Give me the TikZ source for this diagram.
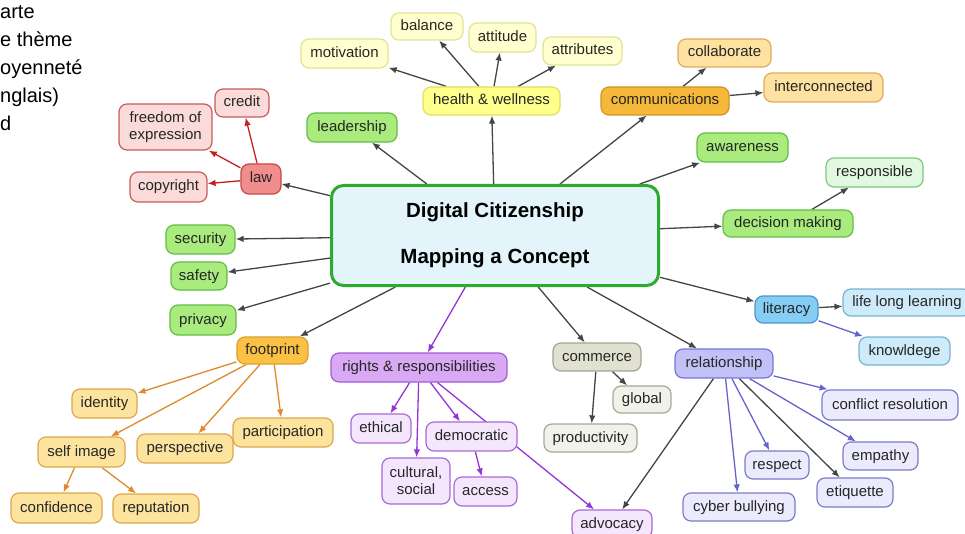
\documentclass[tikz,border=0pt]{standalone}
\usepackage{fontspec}
\setmainfont{Liberation Sans}
\usetikzlibrary{arrows.meta}
\pgfdeclarelayer{paper}
\pgfdeclarelayer{background}
\pgfsetlayers{paper,background,main}
\definecolor{txt}{HTML}{262626}
\definecolor{hwF}{HTML}{FFFF8C}\definecolor{hwD}{HTML}{E0E060}
\definecolor{hwcF}{HTML}{FFFFCF}\definecolor{hwcD}{HTML}{E2E294}
\definecolor{gF}{HTML}{A9EB7D}\definecolor{gD}{HTML}{62BE45}
\definecolor{gcF}{HTML}{E3F8E0}\definecolor{gcD}{HTML}{7CC87C}
\definecolor{oF}{HTML}{F6B838}\definecolor{oD}{HTML}{D39328}
\definecolor{ocF}{HTML}{FDE2A2}\definecolor{ocD}{HTML}{E2AA5C}
\definecolor{lF}{HTML}{F28D8D}\definecolor{lD}{HTML}{C44848}
\definecolor{lcF}{HTML}{FBDADA}\definecolor{lcD}{HTML}{C65C5C}
\definecolor{fF}{HTML}{FAC145}\definecolor{fD}{HTML}{DC9E30}
\definecolor{fcF}{HTML}{FDE49E}\definecolor{fcD}{HTML}{DFA64A}
\definecolor{rF}{HTML}{D9A9F4}\definecolor{rD}{HTML}{A35AD6}
\definecolor{rcF}{HTML}{F4E7FD}\definecolor{rcD}{HTML}{A86AD8}
\definecolor{cmF}{HTML}{E1E1D1}\definecolor{cmD}{HTML}{A4A492}
\definecolor{cmcF}{HTML}{F2F2EA}\definecolor{cmcD}{HTML}{A8A898}
\definecolor{liF}{HTML}{86CDF3}\definecolor{liD}{HTML}{4D97C8}
\definecolor{licF}{HTML}{CEEBFA}\definecolor{licD}{HTML}{7AB2D2}
\definecolor{reF}{HTML}{C1C1F7}\definecolor{reD}{HTML}{7676D3}
\definecolor{recF}{HTML}{EBEBFD}\definecolor{recD}{HTML}{7C7CC9}
\definecolor{cF}{HTML}{E3F4FB}\definecolor{cD}{HTML}{2EAA2E}
\definecolor{agray}{HTML}{454545}
\definecolor{ared}{HTML}{C41E1E}
\definecolor{aorange}{HTML}{E0892C}
\definecolor{apurple}{HTML}{9535D6}
\definecolor{ablue}{HTML}{6464CC}
\tikzset{
  bx/.style={draw, rounded corners=8pt, line width=1.2pt, inner sep=2pt, text=txt,
    font=\fontsize{15}{17}\selectfont, align=center},
  one/.style={text height=11pt, text depth=3pt},
  hw/.style={bx, fill=hwF, draw=hwD}, hwc/.style={bx, fill=hwcF, draw=hwcD},
  grn/.style={bx, fill=gF, draw=gD}, grnc/.style={bx, fill=gcF, draw=gcD},
  org/.style={bx, fill=oF, draw=oD}, orgc/.style={bx, fill=ocF, draw=ocD},
  lawb/.style={bx, fill=lF, draw=lD}, lawc/.style={bx, fill=lcF, draw=lcD},
  fp/.style={bx, fill=fF, draw=fD}, fpc/.style={bx, fill=fcF, draw=fcD},
  rr/.style={bx, fill=rF, draw=rD}, rrc/.style={bx, fill=rcF, draw=rcD},
  cmbox/.style={bx, fill=cmF, draw=cmD}, cmboxc/.style={bx, fill=cmcF, draw=cmcD},
  lit/.style={bx, fill=liF, draw=liD}, litc/.style={bx, fill=licF, draw=licD},
  rel/.style={bx, fill=reF, draw=reD}, relc/.style={bx, fill=recF, draw=recD},
  ar/.style={line width=1.3pt, -{Latex[length=8pt,width=6.5pt]}},
  ga/.style={ar, draw=agray},
  ra/.style={ar, draw=ared},
  oa/.style={ar, draw=aorange},
  pa/.style={ar, draw=apurple},
  ba/.style={ar, draw=ablue},
}
\begin{document}
\begin{tikzpicture}[x=1pt,y=-1pt]
\useasboundingbox (0,0) rectangle (965,534);
\clip (0,0) rectangle (965,534);
\begin{pgfonlayer}{paper}
\fill[white] (0,0) rectangle (965,534);
\end{pgfonlayer}

% cut-off text at the top left (last line's baseline)
\node[anchor=base west, inner sep=0pt, align=left, font=\fontsize{20}{28}\selectfont, text=black]
  (intro) at (0,130.5) {arte\\e thème\\oyenneté\\nglais)\\d};

% centre
\node[draw=cD, fill=cF, line width=3pt, rounded corners=12pt, minimum width=327pt,
  minimum height=100pt, align=center, text=black,
  font=\bfseries\fontsize{20.5}{46}\selectfont] (c) at (495,235.5)
  {\raisebox{-2pt}{Digital Citizenship}\\\raisebox{-2pt}{Mapping a Concept}};

% health & wellness
\node[hw, one, minimum width=137pt, minimum height=28pt] (health) at (491.5,101) {health \& wellness};
\node[hwc, one, minimum width=72pt, minimum height=27pt] (balance) at (427,26.5) {balance};
\node[hwc, one, minimum width=67pt, minimum height=29pt] (attitude) at (502.5,37.5) {attitude};
\node[hwc, one, minimum width=79pt, minimum height=28pt] (attributes) at (582.5,51) {attributes};
\node[hwc, one, minimum width=87pt, minimum height=29pt] (motivation) at (344.5,53.5) {motivation};

\node[grn, one, minimum width=90pt, minimum height=29pt] (leadership) at (352,127.5) {leadership};

% communications
\node[org, one, minimum width=128pt, minimum height=28pt] (comm) at (665,101) {communications};
\node[orgc, one, minimum width=93pt, minimum height=28pt] (collab) at (724.5,53) {collaborate};
\node[orgc, one, minimum width=119pt, minimum height=29pt] (inter) at (823.5,87.5) {interconnected};

\node[grn, one, minimum width=91pt, minimum height=29pt] (aware) at (742.5,147.5) {awareness};
\node[grn, one, minimum width=130pt, minimum height=27pt] (decision) at (788,223.5) {decision making};
\node[grnc, one, minimum width=97pt, minimum height=29pt] (resp) at (874.5,172.5) {responsible};

% law
\node[lawb, one, minimum width=40pt, minimum height=30pt] (law) at (261,179) {law};
\node[lawc, one, minimum width=54pt, minimum height=28pt] (credit) at (242,103) {credit};
\node[lawc, minimum width=93pt, minimum height=46pt] (freedom) at (165.5,127) {freedom of\\expression};
\node[lawc, one, minimum width=77pt, minimum height=30pt] (copyright) at (168.5,187) {copyright};

% left greens
\node[grn, one, minimum width=69pt, minimum height=29pt] (security) at (200.5,239.5) {security};
\node[grn, one, minimum width=56pt, minimum height=28pt] (safety) at (199,276) {safety};
\node[grn, one, minimum width=66pt, minimum height=30pt] (privacy) at (203,320) {privacy};

% footprint
\node[fp, one, minimum width=71pt, minimum height=27pt] (footprint) at (272.5,350.5) {footprint};
\node[fpc, one, minimum width=65pt, minimum height=29pt] (identity) at (104.5,403.5) {identity};
\node[fpc, one, minimum width=87pt, minimum height=30pt] (selfimage) at (81.5,452) {self image};
\node[fpc, one, minimum width=96pt, minimum height=29pt] (perspective) at (185,448.5) {perspective};
\node[fpc, one, minimum width=100pt, minimum height=29pt] (participation) at (283,432.5) {participation};
\node[fpc, one, minimum width=91pt, minimum height=30pt] (confidence) at (56.5,508) {confidence};
\node[fpc, one, minimum width=86pt, minimum height=29pt] (reputation) at (156,508.5) {reputation};

% rights
\node[rr, one, minimum width=176pt, minimum height=29pt] (rights) at (419,367.5) {rights \& responsibilities};
\node[rrc, one, minimum width=60pt, minimum height=29pt] (ethical) at (381,428.5) {ethical};
\node[rrc, minimum width=68pt, minimum height=46pt] (cultural) at (416,481) {cultural,\\social};
\node[rrc, one, minimum width=91pt, minimum height=29pt] (democratic) at (471.5,436.5) {democratic};
\node[rrc, one, minimum width=63pt, minimum height=29pt] (access) at (485.5,491.5) {access};
\node[rrc, one, minimum width=80pt, minimum height=28pt] (advocacy) at (612,524) {advocacy};

% commerce
\node[cmbox, one, minimum width=88pt, minimum height=28pt] (commerce) at (597,357) {commerce};
\node[cmboxc, one, minimum width=58pt, minimum height=27pt] (global) at (642,399.5) {global};
\node[cmboxc, one, minimum width=93pt, minimum height=28pt] (productivity) at (590.5,438) {productivity};

% literacy
\node[lit, one, minimum width=63pt, minimum height=27pt] (literacy) at (786.5,309.5) {literacy};
\node[litc, one, minimum width=128pt, minimum height=27pt] (lifelong) at (907,302.5) {life long learning};
\node[litc, one, minimum width=91pt, minimum height=28pt] (knowledge) at (904.5,351) {knowldege};

% relationship
\node[rel, one, minimum width=98pt, minimum height=29pt] (relationship) at (724,363.5) {relationship};
\node[relc, one, minimum width=136pt, minimum height=30pt] (conflict) at (890,405) {conflict resolution};
\node[relc, one, minimum width=75pt, minimum height=28pt] (empathy) at (880.5,456) {empathy};
\node[relc, one, minimum width=64pt, minimum height=28pt] (respect) at (777,465) {respect};
\node[relc, one, minimum width=76pt, minimum height=29pt] (etiquette) at (855,492.5) {etiquette};
\node[relc, one, minimum width=112pt, minimum height=28pt] (cyber) at (739,507) {cyber bullying};

\begin{pgfonlayer}{background}
% from the centre
\draw[ga] (c) -- (law);
\draw[ga] (c) -- (leadership);
\draw[ga] (c) -- (health);
\draw[ga] (c) -- (comm);
\draw[ga] (c) -- (aware);
\draw[ga] (c) -- (decision);
\draw[ga] (c) -- (security);
\draw[ga] (c) -- (safety);
\draw[ga] (c) -- (privacy);
\draw[ga] (c) -- (footprint);
\draw[pa] (c) -- (rights);
\draw[ga] (c) -- (commerce);
\draw[ga] (c) -- (relationship);
\draw[ga] (c) -- (literacy);
% health
\draw[ga] (health) -- (motivation);
\draw[ga] (health) -- (balance);
\draw[ga] (health) -- (attitude);
\draw[ga] (health) -- (attributes);
% communications
\draw[ga] (comm) -- (collab);
\draw[ga] (comm) -- (inter);
\draw[ga] (decision) -- (resp);
% law
\draw[ra] (law) -- (credit);
\draw[ra] (law) -- (freedom);
\draw[ra] (law) -- (copyright);
% footprint
\draw[oa] (footprint) -- (identity);
\draw[oa] (footprint) -- (selfimage);
\draw[oa] (footprint) -- (perspective);
\draw[oa] (footprint) -- (participation);
\draw[oa] (selfimage) -- (confidence);
\draw[oa] (selfimage) -- (reputation);
% rights
\draw[pa] (rights) -- (ethical);
\draw[pa] (rights) -- (cultural);
\draw[pa] (rights) -- (democratic);
\draw[pa] (rights) -- (advocacy);
\draw[pa] (democratic) -- (access);
% commerce
\draw[ga] (commerce) -- (productivity);
\draw[ga] (commerce) -- (global);
% literacy
\draw[ga] (literacy) -- (lifelong);
\draw[ba] (literacy) -- (knowledge);
% relationship
\draw[ba] (relationship) -- (conflict);
\draw[ba] (relationship) -- (empathy);
\draw[ga] (relationship) -- (etiquette);
\draw[ba] (relationship) -- (respect);
\draw[ba] (relationship) -- (cyber);
\draw[ga] (relationship) -- (advocacy);
\end{pgfonlayer}
\end{tikzpicture}
\end{document}
